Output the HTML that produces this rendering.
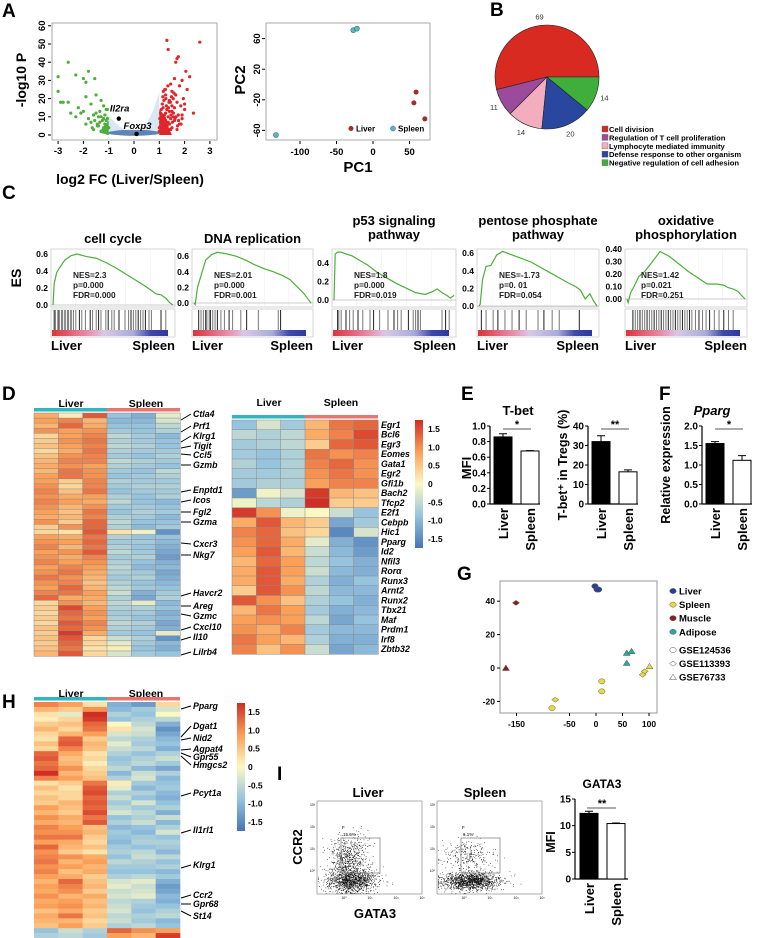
<!DOCTYPE html>
<html><head><meta charset="utf-8">
<style>
html,body{margin:0;padding:0;background:#fff;}
svg{display:block;font-family:"Liberation Sans",Arial,sans-serif;}
.b{font-weight:bold;}
.it{font-style:italic;font-weight:bold;}
</style></head>
<body>
<svg id="fig" width="758" height="938" viewBox="0 0 758 938" xmlns="http://www.w3.org/2000/svg">
<g class="b" font-size="19">
<text x="2" y="17">A</text>
<text x="490" y="16">B</text>
<text x="2" y="199">C</text>
<text x="2" y="400">D</text>
<text x="461" y="400">E</text>
<text x="659" y="400">F</text>
<text x="457" y="580">G</text>
<text x="2" y="708">H</text>
<text x="277" y="780">I</text>
</g>
<g id="volcano">
<rect x="52" y="23" width="165" height="117" fill="none" stroke="#aaa" stroke-width="1"/>
<text class="b" font-size="14" x="130" y="184" text-anchor="middle">log2 FC (Liver/Spleen)</text>
<text class="b" font-size="14" transform="translate(26,80) rotate(-90)" text-anchor="middle">-log10 P</text>
</g>
<g id="pca">
<rect x="266" y="23" width="164" height="117" fill="none" stroke="#aaa" stroke-width="1"/>
<text class="b" font-size="15" x="358" y="172" text-anchor="middle">PC1</text>
<text class="b" font-size="15" transform="translate(245,80) rotate(-90)" text-anchor="middle">PC2</text>
<circle cx="351" cy="128.5" r="2.5" fill="#a52a2a"/>
<text class="b" font-size="8" x="356" y="131.5">Liver</text>
<circle cx="393" cy="128.5" r="2.5" fill="#5fb6c0" stroke="#357" stroke-width="0.5"/>
<text class="b" font-size="8" x="398" y="131.5">Spleen</text>
</g>
<g id="pie"></g>
<g id="pieLegend" class="b" font-size="7.6"></g>
<g id="gsea">
<text class="b" font-size="14" transform="translate(21,278) rotate(-90)" text-anchor="middle">ES</text>
</g>
<g id="heatD">
<text class="b" font-size="10.5" x="71" y="407" text-anchor="middle">Liver</text>
<text class="b" font-size="10.5" x="146" y="407" text-anchor="middle">Spleen</text>
<text class="b" font-size="10.5" x="269" y="406" text-anchor="middle">Liver</text>
<text class="b" font-size="10.5" x="341" y="406" text-anchor="middle">Spleen</text>
</g>
<g id="bars">
<text class="b" font-size="13" x="518" y="415" text-anchor="middle">T-bet</text>
<text class="b" font-size="13" transform="translate(471,468) rotate(-90)" text-anchor="middle">MFI</text>
<text class="b" font-size="12.5" transform="translate(567,465) rotate(-90)" text-anchor="middle">T-bet⁺ in Tregs (%)</text>
<text class="it" font-size="13" x="712" y="415" text-anchor="middle">Pparg</text>
<text class="b" font-size="12.5" transform="translate(670,465) rotate(-90)" text-anchor="middle">Relative expression</text>
</g>
<g id="gplot">
<rect x="500" y="581" width="157" height="132" fill="none" stroke="#999" stroke-width="1"/>
</g>
<g id="heatH">
<text class="b" font-size="10.5" x="71" y="697" text-anchor="middle">Liver</text>
<text class="b" font-size="10.5" x="146" y="697" text-anchor="middle">Spleen</text>
</g>
<g id="flow">
<text class="b" font-size="13" x="368" y="797" text-anchor="middle">Liver</text>
<text class="b" font-size="13" x="485" y="797" text-anchor="middle">Spleen</text>
<text class="b" font-size="13" x="375" y="918" text-anchor="middle">GATA3</text>
<text class="b" font-size="13" transform="translate(302,847) rotate(-90)" text-anchor="middle">CCR2</text>
<text class="b" font-size="12" x="602" y="788" text-anchor="middle">GATA3</text>
<text class="b" font-size="12.5" transform="translate(555,842) rotate(-90)" text-anchor="middle">MFI</text>
</g>
</svg>
<script>
// ===================== DATA =====================
const volRedFC=[1.3,2.6,1.35,1.7,1.65,1.75,2.2,2.05,1.9,1.6,1.45,1.8,2.1,1.5,1.25,1.55,1.95,2.0,1.4,1.7,1.85,2.35,1.15,1.3,1.6,1.5,1.05,1.2,1.1,1.35,1.45,1.75,1.9,1.25,1.05,1.15,1.4,1.6,1.3,1.1,1.2,1.5,1.8,1.0,1.05,1.3,1.45,1.2,1.1,1.7,1.35,1.55,1.25,1.05,1.15,1.4,1.0,1.1,1.2,1.3,1.65,2.0,1.5,1.9,1.08,1.12,1.02,1.18,1.28,1.38,1.48,1.58,1.22,1.32,1.42,1.52,1.62,1.72,1.36,1.44,1.26,1.16,1.56,1.66,1.76,1.86,1.34,1.24,1.14,1.46];
const volRedP=[52,51,47,42,40,43,32,35,30,31,28,27,25,24,22,20,20,17,19,18,16,12,15,14,15,13,12,11,10,10,9,11,9,8,7,6,6,8,5,4,3,4,6,2,5,2,3,1,1,3,7,10,12,9,8,13,4,6,2,1,22,14,16,11,14,17,9,19,16,18,21,23,25,6,3,7,9,5,15,18,20,24,12,10,8,6,27,25,21,11];
const volGreenFC=[-2.6,-3.0,-3.0,-2.3,-1.8,-1.55,-2.0,-1.9,-1.5,-1.9,-2.8,-2.6,-2.9,-2.2,-2.0,-1.7,-1.3,-1.2,-1.1,-1.5,-1.4,-1.6,-1.8,-2.1,-1.25,-1.05,-1.15,-1.35,-1.45,-1.7,-1.9,-2.3,-2.5,-1.1,-1.2,-1.3,-1.0,-1.05,-1.6,-1.4,-1.25,-1.15,-1.05,-1.35,-1.55,-1.1,-1.2,-1.3,-1.45,-1.65];
const volGreenP=[40,32,24,33,35,31,31,29,22,21,18,18,18,15,13,17,19,16,14,12,10,11,9,12,8,9,6,7,5,7,6,10,12,3,4,2,4,1,3,5,2,11,14,13,8,8,9,10,6,4];
const volLabels=["Il2ra","Foxp3"];
const volLabelFC=[-0.6,0.1];
const volLabelP=[9,0.6];
const volXTicks=[-3,-2,-1,0,1,2,3];
const volYTicks=[0,10,20,30,40,50,60];
const pcaLiverX=[59,56,71];
const pcaLiverY=[-10,-24,-45];
const pcaSpleenX=[-27,-22,-133];
const pcaSpleenY=[71,73,-66];
const pcaXTicks=[-100,-50,0,50];
const pcaYTicks=[60,20,-20,-60];
const pieLabels=["Cell division","Regulation of T cell proliferation","Lymphocyte mediated immunity","Defense response to other organism","Negative regulation of cell adhesion"];
const pieValues=[69,11,14,20,14];
const pieColors=["#d92a22","#9b4a9c","#f2aebf","#2a47a0","#3fae3a"];
const gseaTitles=[["cell cycle"],["DNA replication"],["p53 signaling","pathway"],["pentose phosphate","pathway"],["oxidative","phosphorylation"]];
const gseaStats=[["NES=2.3","p=0.000","FDR=0.000"],["NES=2.01","p=0.000","FDR=0.001"],["NES=1.8","p=0.000","FDR=0.019"],["NES=-1.73","p=0. 01","FDR=0.054"],["NES=1.42","p=0.021","FDR=0.251"]];
const gseaRank=[0,0.01,0.03,0.06,0.1,0.15,0.2,0.28,0.36,0.44,0.52,0.6,0.68,0.76,0.82,0.86,0.9,0.94,0.97,1];
const gseaES1=[0,0.25,0.38,0.45,0.53,0.58,0.6,0.57,0.55,0.5,0.44,0.37,0.3,0.23,0.17,0.13,0.12,0.08,0.03,0];
const gseaES2=[0,-0.02,0.2,0.35,0.55,0.62,0.65,0.63,0.6,0.55,0.49,0.44,0.4,0.35,0.3,0.24,0.18,0.12,0.06,0];
const gseaES3=[0,0.5,0.52,0.52,0.5,0.48,0.44,0.38,0.3,0.24,0.18,0.13,0.08,0.06,0.09,0.12,0.08,0.05,0.02,0.05];
const gseaES4=[0,0.02,0.3,0.45,0.46,0.58,0.62,0.58,0.54,0.5,0.44,0.38,0.32,0.26,0.22,0.18,0.08,0.14,0.06,0];
const gseaES5=[0,-0.03,0.05,0.1,0.18,0.22,0.28,0.38,0.34,0.28,0.22,0.17,0.12,0.12,0.11,0.09,0.08,0.06,0.03,0];
const gseaYTicks1=[0.0,0.2,0.4,0.6];
const gseaYTicks2=[0.0,0.2,0.4,0.6];
const gseaYTicks3=[0.0,0.2,0.4];
const gseaYTicks4=[0.0,0.2,0.4,0.6];
const gseaYTicks5=[0.00,0.10,0.20,0.30,0.40];
const gseaHits1=[0.01,0.02,0.04,0.05,0.07,0.08,0.1,0.12,0.13,0.15,0.17,0.19,0.22,0.24,0.27,0.31,0.33,0.36,0.38,0.4,0.44,0.46,0.49,0.51,0.55,0.6,0.63,0.65,0.67,0.69,0.71,0.73,0.75,0.77,0.8,0.82,0.9,0.94];
const gseaHits2=[0.04,0.06,0.08,0.1,0.11,0.13,0.14,0.16,0.18,0.2,0.23,0.26,0.3,0.33,0.4,0.45,0.55,0.72,0.74];
const gseaHits3=[0.03,0.04,0.06,0.1,0.13,0.16,0.2,0.24,0.3,0.33,0.38,0.45,0.5,0.53,0.56,0.62,0.66,0.68,0.7,0.72,0.9,0.93,0.96];
const gseaHits4=[0.02,0.06,0.12,0.16,0.22,0.28,0.34,0.4,0.5,0.55,0.62,0.68,0.85];
const gseaHits5=[0.05,0.07,0.09,0.11,0.13,0.15,0.17,0.19,0.21,0.23,0.25,0.27,0.29,0.31,0.33,0.35,0.37,0.39,0.41,0.43,0.45,0.47,0.49,0.51,0.53,0.55,0.58,0.61,0.64,0.67,0.7,0.74,0.78,0.82,0.86,0.9];
const dLeftGenes=["Ctla4","Prf1","Klrg1","Tigit","Ccl5","Gzmb","Enptd1","Icos","Fgl2","Gzma","Cxcr3","Nkg7","Havcr2","Areg","Gzmc","Cxcl10","Il10","Lilrb4"];
const dLeftGeneY=[417,429,439,449,458,468,493,503,515,525,547,558,596,609,619,630,640,655];
const dLeftRowY=[420,432,442,448,454,465,492,502,512,522,543,555,596,606,614,630,640,655];
const dLeftValues=[
[0.7,0.1,1.3,-0.8,-1.0,-0.2],[0.8,1.0,0.6,-0.9,-0.9,-0.3],[0.6,1.2,0.7,-0.8,-0.8,-0.5],[0.9,0.8,0.9,-0.7,-0.8,-0.6],
[0.3,0.8,1.0,-0.5,-0.7,-0.9],[0.4,0.9,1.1,-0.6,-0.7,-0.8],[0.5,0.8,1.0,-0.5,-0.6,-0.8],[0.3,0.7,1.1,-0.6,-0.7,-0.7],
[0.5,0.9,1.0,-0.7,-0.8,-0.6],[0.6,1.0,1.0,-0.5,-0.6,-0.7],[0.7,0.9,0.8,-0.6,-0.7,-0.8],[0.6,1.1,0.9,-0.7,-0.8,-0.5],
[0.8,1.1,0.9,-0.8,-0.7,-0.6],[0.8,0.4,1.0,-0.6,-0.7,-0.7],[0.9,0.3,1.0,-0.7,-0.6,-0.6],[1.0,0.5,1.1,-0.8,-0.7,-0.7],
[0.9,0.7,0.8,-0.6,-0.8,-0.6],[1.0,0.8,0.7,-0.5,-0.8,-0.9],[0.9,0.6,0.9,-0.7,-0.7,-0.8],[0.8,0.5,1.1,-0.8,-0.6,-0.7],
[0.7,0.6,1.0,-0.6,-0.7,-0.9],[0.9,0.4,1.2,-0.5,-0.8,-0.8],[0.4,0.9,1.2,-0.6,-0.9,-0.7],[0.3,0.2,1.3,0.2,-0.1,-1.3],
[0.8,0.7,1.1,-0.6,-0.8,-0.8],[0.9,0.8,1.2,-0.7,-0.7,-0.9],[1.0,0.6,1.1,-0.6,-0.8,-1.0],[0.8,0.9,1.3,-0.5,-0.7,-1.1],
[0.9,0.7,1.0,-0.7,-0.6,-1.2],[1.0,0.8,0.9,-0.6,-0.8,-1.0],[0.8,1.0,0.8,-0.5,-0.9,-0.9],[0.9,1.1,0.7,-0.6,-0.7,-1.1],
[1.1,0.9,0.6,-0.7,-0.6,-1.0],[0.9,1.0,0.5,-0.6,-0.8,-0.9],[0.8,1.2,0.6,-0.5,-0.7,-0.8],[1.0,1.1,0.8,-0.4,-1.0,-0.7],
[1.2,0.7,0.7,-0.6,-1.1,-0.6],[0.3,0.9,0.6,-0.5,-0.2,-0.9],[0.4,1.4,0.8,-0.6,-0.6,-0.8],[0.3,1.2,0.9,-0.7,-0.7,-1.0],
[0.4,1.1,0.8,-0.6,-0.8,-0.9],[0.3,1.3,1.0,-0.5,-0.6,-1.1],[0.5,1.2,0.9,-0.6,-0.7,-1.0],[0.4,1.5,0.7,-0.7,-0.8,-0.2],
[0.5,1.3,0.3,-0.4,-0.6,-1.3],[0.4,1.2,0.3,-0.2,-0.7,-0.9],[0.5,1.1,0.2,0.1,-0.8,-1.0],[0.6,1.3,0.3,-0.3,-0.7,-0.8]];
const dRightGenes=["Egr1","Bcl6","Egr3","Eomes","Gata1","Egr2","Gfi1b","Bach2","Tfcp2","E2f1","Cebpb","Hic1","Pparg","Id2","Nfil3","Rorα","Runx3","Arnt2","Runx2","Tbx21","Maf","Prdm1","Irf8","Zbtb32"];
const dRightValues=[
[-0.8,-0.3,-0.7,0.6,1.1,1.2],[-0.5,-0.6,-0.5,0.7,1.0,1.4],[-0.7,-0.6,-0.5,0.4,1.2,1.3],[-0.7,-0.8,-0.6,1.1,0.9,1.0],
[-0.6,-0.8,-0.6,1.0,1.2,0.9],[-0.7,-0.7,-0.6,0.9,1.1,0.9],[-0.7,-0.6,-0.6,0.8,1.0,1.0],[-1.2,-0.1,-0.3,1.5,0.6,0.5],
[-0.1,-0.5,-0.6,1.8,0.4,0.4],[1.5,0.9,-0.1,0.0,-0.4,-0.8],[0.7,1.3,0.6,0.4,-1.1,-0.7],[1.0,1.2,0.5,0.3,-1.4,-0.3],
[0.9,1.2,0.7,-0.2,-1.0,-1.3],[0.8,1.3,0.6,-0.4,-0.9,-1.2],[0.6,1.2,0.8,-0.5,-0.8,-1.0],[0.7,1.3,0.8,-0.4,-0.9,-1.0],
[0.7,1.3,0.7,-0.6,-1.0,-0.8],[0.4,1.3,0.9,-0.5,-0.9,-0.9],[1.3,0.9,0.5,-0.6,-0.8,-1.0],[0.6,1.1,0.8,-0.7,-1.0,-0.9],
[0.8,0.9,0.8,-0.5,-1.1,-0.8],[0.9,0.7,1.0,-0.7,-0.9,-0.9],[1.1,0.8,0.6,-0.6,-1.0,-1.0],[1.0,0.5,0.9,-0.4,-1.1,-0.9]];
const cbTicks=[1.5,1.0,0.5,0,-0.5,-1.0,-1.5];
const cbTickLabels=["1.5","1.0","0.5","0","-0.5","-1.0","-1.5"];
const barGroups=["Liver","Spleen"];
const tbetMFI=[0.86,0.68];
const tbetMFIErr=[0.04,0.005];
const tbetTreg=[32,16.5];
const tbetTregErr=[3,1];
const ppargExpr=[1.55,1.12];
const ppargErr=[0.05,0.12];
const gata3MFI=[12.3,10.4];
const gata3Err=[0.4,0.1];
const mfiTicks=[0.0,0.2,0.4,0.6,0.8,1.0];
const tregTicks=[0,10,20,30,40];
const ppargTicks=[0.0,0.5,1.0,1.5,2.0];
const gataTicks=[0,5,10,15];
const gTissue=["Liver","Liver","Liver","Spleen","Spleen","Spleen","Spleen","Spleen","Spleen","Spleen","Muscle","Muscle","Adipose","Adipose","Adipose"];
const gShape=["circle","circle","circle","circle","circle","diamond","circle","diamond","diamond","triangle","diamond","triangle","triangle","triangle","triangle"];
const gPC1=[-2,2,5,11,11,-77,-83,88,92,101,-151,-170,58,67,58];
const gPC2=[49,47,47,-8,-14,-19,-24,-4,-2,1,39,0,9,10,3];
const gXTicks=[-150,-50,0,50,100];
const gYTicks=[40,20,0,-20];
const gTissueNames=["Liver","Spleen","Muscle","Adipose"];
const gTissueColors=["#2b3f96","#e6dc3c","#8b1e1e","#2aa89a"];
const gDatasets=["GSE124536","GSE113393","GSE76733"];
const hGenes=["Pparg","Dgat1","Nid2","Agpat4","Gpr55","Hmgcs2","Pcyt1a","Il1rl1","Klrg1","Ccr2","Gpr68","St14"];
const hGeneY=[709,729,741,752,760,768,796,833,868,898,907,919];
const hRowY=[709,737,740,750,753,756,796,833,868,898,904,911];
const hValues=[
[1.0,0.8,0.2,-1.0,-1.2,0.3],[0.6,0.4,0.9,-0.9,-0.7,-0.3],[0.2,-0.2,1.6,-0.6,-0.8,0.0],[0.1,0.3,1.5,-0.8,-0.6,-0.5],
[0.4,0.5,1.2,0.0,-0.5,-1.0],[0.6,0.3,1.1,0.2,-0.3,-1.3],[0.3,0.6,0.8,-0.3,-0.4,-1.1],[0.2,1.2,0.4,-0.5,-0.6,-0.9],
[0.5,1.3,0.6,-0.2,-0.7,-0.8],[0.3,1.0,0.5,-0.4,-0.5,-1.0],[1.2,0.7,0.2,-0.6,-0.8,-0.6],[1.3,0.5,0.3,-0.8,-0.6,-0.4],
[1.1,0.6,0.1,-0.7,-0.5,-0.7],[1.2,0.9,0.3,-0.5,-0.9,-1.1],[1.6,0.6,0.4,-0.9,-0.4,-0.6],[1.0,0.8,0.5,-0.6,-0.3,-0.9],
[0.2,0.4,1.1,0.1,-0.7,-0.8],[0.5,0.2,1.3,-0.2,-0.9,-0.7],[0.3,0.3,1.4,-0.6,-0.6,-0.9],[0.5,0.3,1.2,-0.4,-0.8,-1.0],
[0.4,0.6,1.3,-0.7,-0.3,-0.8],[0.8,0.5,1.2,-0.5,-0.7,-0.6],[0.6,0.4,1.4,-0.3,-0.5,-1.0],[0.9,0.7,1.1,-0.8,-0.6,-0.4],
[0.7,0.6,1.3,-0.6,-0.4,-0.9],[1.0,0.8,0.5,-0.9,-0.8,-0.6],[0.9,0.9,0.6,-0.7,-0.9,-0.3],[1.1,1.1,0.4,-0.8,-0.7,-0.8],
[0.8,0.7,0.3,-0.9,-0.6,-0.6],[1.2,0.6,0.5,-0.7,-0.8,-0.7],[0.9,0.4,0.2,-0.6,-0.5,-0.9],[1.0,0.9,0.7,-0.8,-0.4,-0.5],
[1.1,0.6,0.8,-0.5,-0.6,-0.8],[0.9,0.8,0.6,-0.7,-0.7,-0.6],[1.0,0.5,0.7,-0.8,-0.8,-0.9],[0.8,0.7,0.4,-0.6,-0.5,-0.7],
[0.6,1.2,0.5,-0.3,-0.2,-1.0],[0.8,1.0,0.6,-0.2,-0.4,-1.2],[0.7,0.9,0.4,-0.4,-0.3,-1.1],[0.9,0.6,0.7,-0.3,-0.2,-0.9],
[0.7,0.8,0.5,-0.5,-0.6,-1.0],[0.8,0.9,0.6,-0.4,-0.7,-0.8],[0.5,0.7,0.4,-0.3,-0.8,-0.6],[0.7,1.1,0.5,-0.5,-0.6,-0.5],
[0.6,0.6,0.3,-0.4,-0.7,-0.9],[0.5,0.8,0.4,-0.6,-0.5,-0.8],[-0.8,-0.4,-0.6,1.2,0.9,0.8],[-0.6,-0.5,-0.7,0.8,0.6,1.5]];
const flowGates=["15.6%","6.1%"];
const flowClusterCounts=[1300,600,1400,300];
const flowClusterCX=[0.33,0.3,0.32,0.3];
const flowClusterCY=[0.85,0.6,0.86,0.6];
const flowClusterSX=[0.12,0.1,0.14,0.12];
const flowClusterSY=[0.08,0.14,0.06,0.12];
const flowClusterPlot=[0,0,1,1];

// ===================== DRAW =====================
const NS="http://www.w3.org/2000/svg";
const fig=document.getElementById('fig');
function mk(tag,parent,attrs){const e=document.createElementNS(NS,tag);for(const k in attrs)e.setAttribute(k,attrs[k]);(parent||fig).appendChild(e);return e;}
function txt(parent,x,y,s,size,anchor,extra){const t=mk('text',parent,Object.assign({x:x,y:y,'font-size':size,'text-anchor':anchor||'start'},extra||{}));t.textContent=s;return t;}
function heatColor(v){
  const st=[[-1.6,[69,117,180]],[-0.8,[150,195,222]],[0,[252,248,196]],[0.8,[250,160,88]],[1.6,[208,45,36]]];
  v=Math.max(-1.6,Math.min(1.6,v));
  for(let i=0;i<st.length-1;i++){if(v<=st[i+1][0]){const t=(v-st[i][0])/(st[i+1][0]-st[i][0]);const a=st[i][1],b=st[i+1][1];return 'rgb('+a.map((c,j)=>Math.round(c+(b[j]-c)*t)).join(',')+')';}}
  return 'rgb(208,45,36)';
}

(function(){
  const g=document.getElementById('volcano');
  const vx=fc=>134+fc*25.3, vy=p=>135-p*1.82;
  const den=mk('path',g,{d:'M'+vx(-1.1)+','+vy(0)+' L'+vx(-1.1)+','+vy(12)+' Q'+vx(-0.5)+','+vy(2)+' '+vx(0)+','+vy(1)+' Q'+vx(0.6)+','+vy(3)+' '+vx(1.0)+','+vy(24)+' L'+vx(1.0)+','+vy(0)+' Z',fill:'#d5e4f2',opacity:'0.9'});
  
  
  const den2=mk('ellipse',g,{cx:vx(0),cy:vy(1.2),rx:26,ry:3,fill:'#2a5a98',opacity:'0.7'});
  
  
  const band=mk('path',g,{d:'M'+vx(1.0)+','+vy(0)+' L'+vx(1.0)+','+vy(14)+' L'+vx(1.25)+','+vy(10)+' L'+vx(1.4)+','+vy(3)+' L'+vx(1.5)+','+vy(0)+' Z',fill:'#e0262a'});
  
  
  const n1=Math.min(volRedFC.length,volRedP.length);
  for(let i=0;i<n1;i++){const c=mk('circle',g,{cx:vx(volRedFC[i]),cy:vy(volRedP[i]),r:1.6,fill:'#e0262a'});
    
    }
  const gb=mk('path',g,{d:'M'+vx(-1.0)+','+vy(0)+' L'+vx(-1.0)+','+vy(8)+' L'+vx(-1.3)+','+vy(3)+' L'+vx(-1.3)+','+vy(1)+' Z',fill:'#4fae3c'});
  
  
  const n2=Math.min(volGreenFC.length,volGreenP.length);
  for(let i=0;i<n2;i++){const c=mk('circle',g,{cx:vx(volGreenFC[i]),cy:vy(volGreenP[i]),r:1.6,fill:'#4fae3c'});
    
    }
  for(let i=0;i<volLabels.length;i++){
    const c=mk('circle',g,{cx:vx(volLabelFC[i]),cy:vy(volLabelP[i]),r:2.2,fill:'#000'});
    
    
    const t=txt(g,vx(volLabelFC[i])+(i===0?-9:-13),vy(volLabelP[i])-(i===0?7:5),volLabels[i],9.5,'start',{'font-style':'italic','font-weight':'bold'});
    
    
  }
  volXTicks.forEach(v=>{const l=mk('line',g,{x1:vx(v),x2:vx(v),y1:141,y2:144,stroke:'#000'});
    
    
    const t=txt(g,vx(v),154,String(v),9.5,'middle',{'font-weight':'bold'});
    
    });
  volYTicks.forEach(v=>{const l=mk('line',g,{x1:48,x2:51,y1:vy(v),y2:vy(v),stroke:'#000'});
    
    
    const t=txt(g,0,0,String(v),9.5,'middle',{'font-weight':'bold',transform:'translate(45,'+vy(v)+') rotate(-90)'});
    
    });
})();

(function(){
  const g=document.getElementById('pca');
  const px=v=>373+v*0.73, py=v=>84.5-v*0.765;
  pcaLiverX.forEach((v,i)=>{const c=mk('circle',g,{cx:px(v),cy:py(pcaLiverY[i]),r:2.5,fill:'#a52a2a'});
    
    });
  pcaSpleenX.forEach((v,i)=>{const c=mk('circle',g,{cx:px(v),cy:py(pcaSpleenY[i]),r:2.5,fill:'#5fb6c0',stroke:'#2c6c78','stroke-width':0.6});
    
    });
  pcaXTicks.forEach(v=>{const l=mk('line',g,{x1:px(v),x2:px(v),y1:141,y2:144,stroke:'#000'});
    
    
    const t=txt(g,px(v),155,String(v),9.5,'middle',{'font-weight':'bold'});
    
    });
  pcaYTicks.forEach(v=>{const l=mk('line',g,{x1:262,x2:265,y1:py(v),y2:py(v),stroke:'#000'});
    
    
    const t=txt(g,0,0,String(v),9.5,'middle',{'font-weight':'bold',transform:'translate(260,'+py(v)+') rotate(-90)'});
    
    });
})();

(function(){
  const g=document.getElementById('pie');
  const cx=547,cy=77,r=52;const tot=pieValues.reduce((a,b)=>a+b,0);
  let a0=0;
  pieValues.forEach((v,i)=>{
    const a1=a0+v/tot*2*Math.PI;
    const x0=cx+r*Math.cos(a0),y0=cy-r*Math.sin(a0),x1=cx+r*Math.cos(a1),y1=cy-r*Math.sin(a1);
    const large=(a1-a0)>Math.PI?1:0;
    const p=mk('path',g,{d:`M${cx},${cy} L${x0},${y0} A${r},${r} 0 ${large} 0 ${x1},${y1} Z`,fill:pieColors[i],stroke:'#222','stroke-width':0.6});
    
    
    const am=(a0+a1)/2;
    const t=txt(g,cx+(r+9)*Math.cos(am),cy-(r+9)*Math.sin(am)+3,String(v),7.5,'middle',{fill:'#333'});
    
    
    a0=a1;
  });
  const lg=document.getElementById('pieLegend');
  pieLabels.forEach((s,i)=>{
    const y=126+i*8.4;
    const rc=mk('rect',lg,{x:602,y:y,width:6,height:6,fill:pieColors[i],stroke:'#666','stroke-width':0.4});
    
    
    const t=txt(lg,609,y+6,s,7.6,'start');
    
    
  });
})();

(function(){
  const g=document.getElementById('gsea');
  const boxX=[51,192,332,477,625], boxW=[124,121,124,122,122];
  const zeroY=[305,303,300,306,299], scale=[85,78,92,88,125];
  const ES=[gseaES1,gseaES2,gseaES3,gseaES4,gseaES5];
  const TK=[gseaYTicks1,gseaYTicks2,gseaYTicks3,gseaYTicks4,gseaYTicks5];
  const HT=[gseaHits1,gseaHits2,gseaHits3,gseaHits4,gseaHits5];
  const defs=mk('defs',g,{});
  const lgd=mk('linearGradient',defs,{id:'rankgrad',x1:0,x2:1,y1:0,y2:0});
  [['0','#d8353a'],['0.3','#e88aa8'],['0.45','#d8c8e6'],['0.7','#a9acd8'],['0.85','#4048a8'],['1','#3038a0']].forEach(s=>mk('stop',lgd,{offset:s[0],'stop-color':s[1]}));
  for(let k=0;k<5;k++){
    const x=boxX[k],w=boxW[k];
    const X=f=>x+2+f*(w-4), Y=v=>zeroY[k]-v*scale[k];
    const fr=mk('rect',g,{x:x,y:249,width:w,height:58,fill:'#fff',stroke:'#ccc','stroke-width':0.8});
    
    
    for(let i=1;i<5;i++){const gl=mk('line',g,{x1:x+i*w/5,x2:x+i*w/5,y1:249,y2:307,stroke:'#eee','stroke-width':0.5});
      
      }
    const zl=mk('line',g,{x1:x,x2:x+w,y1:Y(0),y2:Y(0),stroke:'#bbb','stroke-width':0.8});
    
    
    const pts=gseaRank.map((r,i)=>X(r)+','+Y(ES[k][i])).join(' ');
    const pl=mk('polyline',g,{points:pts,fill:'none',stroke:'#4caf3a','stroke-width':1.2});
    
    
    TK[k].forEach(v=>{const t=txt(g,x-3,Y(v)+3,v.toFixed(k===4?2:1),8.5,'end',{'font-weight':'bold'});
      
      });
    gseaTitles[k].forEach((s,i)=>{const n=gseaTitles[k].length;
      const t=txt(g,x+w/2,n===1?243:225+i*14,s,13,'middle',{'font-weight':'bold'});
      
      });
    gseaStats[k].forEach((s,i)=>{const t=txt(g,x+(k===4?16:22),278+i*10,s,8.3,'start',{'font-weight':'bold',fill:'#222'});
      
      });
    const bc=mk('rect',g,{x:x,y:309,width:w,height:28,fill:'#fff',stroke:'#ccc','stroke-width':0.8});
    
    
    HT[k].forEach((h,i)=>{const l=mk('line',g,{x1:X(h),x2:X(h),y1:310,y2:330,stroke:i%3===0?'#222':'#777','stroke-width':1});
      
      });
    const gr=mk('rect',g,{x:x+1,y:330,width:w-8,height:6,fill:'url(#rankgrad)'});
    
    
    const t1=txt(g,x,350,'Liver',13,'start',{'font-weight':'bold'});
    
    
    const t2=txt(g,x+w,350,'Spleen',13,'end',{'font-weight':'bold'});
    
    
  }
})();

function drawHeat(g,values,x0,y0,w,h,name,sep){
  const rh=h/values.length,cw=w/6;
  values.forEach((row,r)=>row.forEach((v,c)=>{
    const cell=mk('rect',g,{x:x0+c*cw,y:y0+r*rh,width:cw+0.3,height:rh+0.3,fill:heatColor(v),stroke:sep?'#8a8a8a':'none','stroke-width':sep?0.5:0});
    
    
  }));
  const b1=mk('rect',g,{x:x0,y:y0-5,width:w/2,height:3.5,fill:'#2fb6bf'});
  
  
  const b2=mk('rect',g,{x:x0+w/2,y:y0-5,width:w/2,height:3.5,fill:'#e9766e'});
  
  
}
function drawLabels(g,genes,gy,ry,x,lineX){
  genes.forEach((s,i)=>{
    const l=mk('line',g,{x1:lineX,y1:ry[i],x2:x-2,y2:gy[i]-3,stroke:'#000','stroke-width':1});
    
    
    const t=txt(g,x,gy[i],s,8.8,'start',{'font-style':'italic','font-weight':'bold'});
    
    
  });
}
function drawColorbar(g,x,y0,y1,lblX,name){
  const defs=mk('defs',g,{});
  const id=name+'grad';
  const lg=mk('linearGradient',defs,{id:id,x1:0,x2:0,y1:0,y2:1});
  [1.6,0.8,0,-0.8,-1.6].forEach((v,i)=>mk('stop',lg,{offset:i/4,'stop-color':heatColor(v)}));
  const r=mk('rect',g,{x:x,y:y0,width:8,height:y1-y0,fill:'url(#'+id+')'});
  
  
  const sc=v=>y0+(1.75-v)/3.5*(y1-y0);
  cbTicks.forEach((v,i)=>{const t=txt(g,lblX,sc(v)+3,cbTickLabels[i],8.5,'start',{'font-weight':'bold'});
    
    });
}

(function(){
  const g=document.getElementById('heatD');
  drawHeat(g,dLeftValues,34,413,146,243,'d-left-heatmap',true);
  drawLabels(g,dLeftGenes,dLeftGeneY,dLeftRowY,193,181);
  drawHeat(g,dRightValues,232,420,146,234,'d-right-heatmap',true);
  const rh=234/dRightGenes.length;
  dRightGenes.forEach((s,i)=>{const t=txt(g,381,420+rh*(i+0.5)+3,s,8.8,'start',{'font-style':'italic','font-weight':'bold'});
    
    });
  drawColorbar(g,415,420,548,428,'d-colorbar');
})();

function barChart(g,axisX,vals,errs,ticks,tmax,fmt,star,name){
  const Y=v=>504-v/tmax*78;
  const ax=mk('line',g,{x1:axisX,x2:axisX,y1:Y(tmax),y2:504,stroke:'#000','stroke-width':1.2});
  
  
  const bx=mk('line',g,{x1:axisX,x2:axisX+50,y1:504,y2:504,stroke:'#000','stroke-width':1.2});
  
  
  ticks.forEach(v=>{const l=mk('line',g,{x1:axisX-3,x2:axisX,y1:Y(v),y2:Y(v),stroke:'#000'});
    
    
    const t=txt(g,axisX-4,Y(v)+3.5,fmt(v),10,'end',{'font-weight':'bold'});
    
    });
  vals.forEach((v,i)=>{
    const x=axisX+4+i*27;
    const r=mk('rect',g,{x:x,y:Y(v),width:18,height:504-Y(v),fill:i===0?'#000':'#fff',stroke:'#000','stroke-width':1});
    
    
    const e=mk('path',g,{d:`M${x+9},${Y(v)} V${Y(v+errs[i])} M${x+5},${Y(v+errs[i])} H${x+13}`,stroke:'#000','stroke-width':1,fill:'none'});
    
    
    const t=txt(g,0,0,barGroups[i],13,'end',{'font-weight':'bold',transform:`translate(${x+14},508) rotate(-90)`});
    
    
  });
  const sl=mk('line',g,{x1:axisX+13,x2:axisX+41,y1:429,y2:429,stroke:'#555'});
  
  
  const st=txt(g,axisX+27,428,star,11,'middle',{'font-weight':'bold'});
  
  
}
(function(){
  const g=document.getElementById('bars');
  barChart(g,490,tbetMFI,tbetMFIErr,mfiTicks,1.0,v=>v.toFixed(1),'*','tbet-mfi');
  barChart(g,588,tbetTreg,tbetTregErr,tregTicks,40,v=>String(v),'**','tbet-tregs');
  barChart(g,702,ppargExpr,ppargErr,ppargTicks,2.0,v=>v.toFixed(1),'*','pparg');
})();

(function(){
  const g=document.getElementById('gplot');
  const X=v=>596+v*0.53, Y=v=>668-v*1.67;
  function shape(sh,x,y,fill,name){
    let e;
    if(sh==='circle')e=mk('ellipse',g,{cx:x,cy:y,rx:3.2,ry:2.6,fill:fill,stroke:'#555','stroke-width':0.5});
    else if(sh==='diamond')e=mk('path',g,{d:`M${x-3.5},${y} L${x},${y-2.5} L${x+3.5},${y} L${x},${y+2.5} Z`,fill:fill,stroke:'#555','stroke-width':0.5});
    else e=mk('path',g,{d:`M${x-3.5},${y+2.5} L${x},${y-3} L${x+3.5},${y+2.5} Z`,fill:fill,stroke:'#555','stroke-width':0.5});
    
    
  }
  gPC1.forEach((v,i)=>shape(gShape[i],X(v),Y(gPC2[i]),gTissueColors[gTissueNames.indexOf(gTissue[i])],'g-point-'+gTissue[i].toLowerCase()));
  gXTicks.forEach(v=>{const l=mk('line',g,{x1:X(v),x2:X(v),y1:713,y2:716,stroke:'#000'});
    
    
    const t=txt(g,X(v),727,String(v),8.5,'middle',{'font-weight':'bold'});
    
    });
  gYTicks.forEach(v=>{const l=mk('line',g,{x1:497,x2:500,y1:Y(v),y2:Y(v),stroke:'#000'});
    
    
    const t=txt(g,495,Y(v)+3,String(v),8.5,'end',{'font-weight':'bold'});
    
    });
  gTissueNames.forEach((s,i)=>{shape('circle',673,591+i*13.6,gTissueColors[i],'g-legend-swatch');
    const t=txt(g,679,594.5+i*13.6,s,9.5,'start',{'font-weight':'bold'});
    
    });
  ['circle','diamond','triangle'].forEach((sh,i)=>{shape(sh,673,650+i*13.6,'#fff','g-legend-shape');
    const t=txt(g,679,653.5+i*13.6,gDatasets[i],9.5,'start',{'font-weight':'bold'});
    
    });
})();

(function(){
  const g=document.getElementById('heatH');
  drawHeat(g,hValues,34,702,146,236,'h-heatmap',false);
  drawLabels(g,hGenes,hGeneY,hRowY,193,181);
  drawColorbar(g,237,703,831,248,'h-colorbar');
})();

(function(){
  const g=document.getElementById('flow');
  const boxes=[[317,801,105,93],[437,801,105,93]];
  boxes.forEach((b,k)=>{
    const r=mk('rect',g,{x:b[0],y:b[1],width:b[2],height:b[3],fill:'#fff',stroke:'#999','stroke-width':0.8});
    
    
  });
  const hash=n=>{const s=Math.sin(n*12.9898+78.233)*43758.5453;return s-Math.floor(s);};
  const dotPaths=['',''];
  let idx=1;
  flowClusterCounts.forEach((n,c)=>{
    const b=boxes[flowClusterPlot[c]];
    for(let i=0;i<n;i++){
      idx++;
      const u1=hash(idx)*0.998+0.001, u2=hash(idx+50000);
      const rad=Math.sqrt(-2*Math.log(u1)), th=2*Math.PI*u2;
      let fx=flowClusterCX[c]+flowClusterSX[c]*rad*Math.cos(th);
      let fy=flowClusterCY[c]+flowClusterSY[c]*rad*Math.sin(th)*0.8;
      fx=Math.max(0.01,Math.min(0.99,fx));fy=Math.max(0.02,Math.min(0.99,fy));
      dotPaths[flowClusterPlot[c]]+=`M${(b[0]+fx*b[2]).toFixed(1)},${(b[1]+fy*b[3]).toFixed(1)}h0.7v0.7h-0.7z`;
    }
  });
  dotPaths.forEach((d,k)=>{const p=mk('path',g,{d:d,fill:'#111'});
    
    });
  boxes.forEach((b,k)=>{
    const gate=mk('rect',g,{x:b[0]+24,y:838,width:39,height:35,fill:'none',stroke:'#888','stroke-width':0.8});
    
    
    const f=txt(g,b[0]+25,829,'F',4.5,'start');
    
    
    const pc=txt(g,b[0]+26,836,flowGates[k],4.5,'start');
    
    
    ['10⁰','10¹','10²','10³'].forEach((s,i)=>{
      const tx=txt(g,b[0]+27+i*26,899,s,3.5,'middle');
      
      
      const ty=txt(g,b[0]-2,872-i*22,s,3.5,'end');
      
      
    });
  });
  const axisX=575, Y=v=>879-v/15*80;
  const ax=mk('line',g,{x1:axisX,x2:axisX,y1:Y(15),y2:879,stroke:'#000','stroke-width':1.2});
  
  
  const bx=mk('line',g,{x1:axisX,x2:axisX+53,y1:879,y2:879,stroke:'#000','stroke-width':1.2});
  
  
  gataTicks.forEach(v=>{const l=mk('line',g,{x1:axisX-3,x2:axisX,y1:Y(v),y2:Y(v),stroke:'#000'});
    
    
    const t=txt(g,axisX-4,Y(v)+3.5,String(v),10,'end',{'font-weight':'bold'});
    
    });
  gata3MFI.forEach((v,i)=>{
    const x=axisX+5+i*27;
    const r=mk('rect',g,{x:x,y:Y(v),width:18,height:879-Y(v),fill:i===0?'#000':'#fff',stroke:'#000','stroke-width':1});
    
    
    const e=mk('path',g,{d:`M${x+9},${Y(v)} V${Y(v+gata3Err[i])} M${x+5},${Y(v+gata3Err[i])} H${x+13}`,stroke:'#000',fill:'none'});
    
    
    const t=txt(g,0,0,barGroups[i],13,'end',{'font-weight':'bold',transform:`translate(${x+14},883) rotate(-90)`});
    
    
  });
  const sl=mk('line',g,{x1:axisX+12,x2:axisX+41,y1:808,y2:808,stroke:'#555'});
  
  
  const st=txt(g,axisX+27,807,'**',11,'middle',{'font-weight':'bold'});
  
  
})();
</script>
</body></html>
